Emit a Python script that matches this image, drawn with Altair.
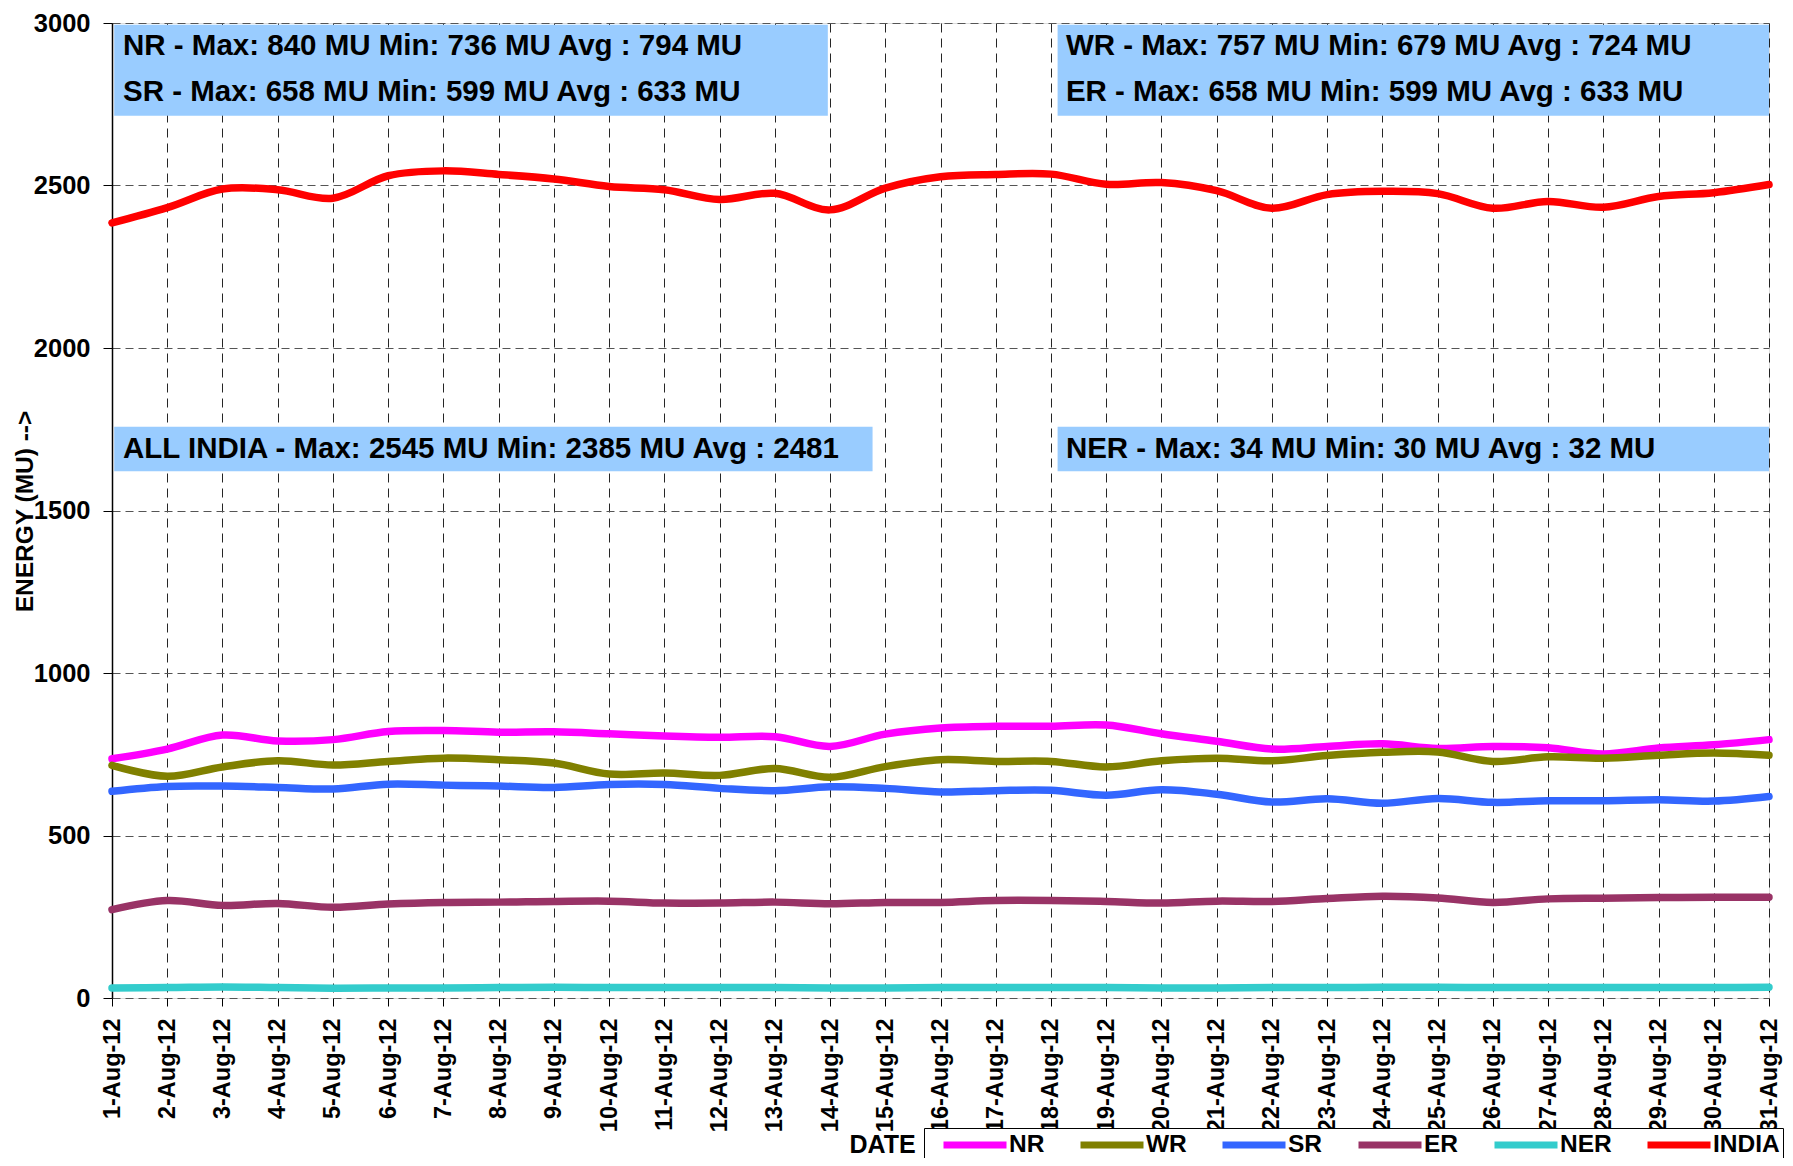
import altair as alt
import pandas as pd

# ---------------- data ----------------
days = list(range(1, 32))
series_names = ["NR", "WR", "SR", "ER", "NER", "INDIA"]
series_colors = ["#FF00FF", "#808000", "#3366FF", "#993366", "#33CCCC", "#FF0000"]

nr = [736, 766, 809, 791, 795, 820, 823, 818, 819, 813, 806, 802, 804, 774, 812,
      831, 836, 836, 840, 813, 790, 766, 774, 782, 768, 774, 770, 751, 769, 779, 795]
wr = [716, 682, 711, 730, 717, 728, 738, 733, 723, 689, 692, 685, 706, 679, 712,
      733, 728, 728, 711, 730, 738, 730, 746, 756, 757, 728, 742, 738, 747, 754, 747]
sr = [636, 651, 652, 648, 643, 658, 655, 652, 648, 657, 657, 645, 638, 650, 645,
      634, 638, 639, 624, 641, 627, 603, 613, 599, 614, 602, 607, 607, 610, 606, 620]
er = [272, 300, 285, 291, 279, 289, 294, 295, 297, 298, 292, 292, 295, 290, 294,
      294, 300, 300, 297, 292, 298, 297, 306, 313, 308, 294, 305, 307, 309, 310, 310]
ner = [31, 32, 34, 32, 30, 31, 31, 32, 33, 32, 32, 32, 32, 31, 31,
       32, 32, 32, 32, 31, 31, 32, 32, 33, 33, 32, 32, 32, 32, 32, 33]
india = [2385, 2432, 2489, 2487, 2461, 2530, 2545, 2534, 2520, 2497, 2487, 2457, 2476, 2425, 2492,
         2527, 2534, 2535, 2504, 2509, 2484, 2430, 2472, 2482, 2475, 2430, 2451, 2433, 2466, 2478, 2503]

box_texts = [
    ["NR - Max: 840 MU Min: 736 MU Avg : 794 MU", "SR - Max: 658 MU Min: 599 MU Avg : 633 MU"],
    ["WR - Max: 757 MU Min: 679 MU Avg : 724 MU", "ER - Max: 658 MU Min: 599 MU Avg : 633 MU"],
    ["ALL INDIA - Max: 2545 MU Min: 2385 MU Avg : 2481"],
    ["NER - Max: 34 MU Min: 30 MU Avg : 32 MU"],
]

# ---------------- tables ----------------
rows = []
for k, (name, vals) in enumerate(zip(series_names, [nr, wr, sr, er, ner, india])):
    for d, v in zip(days, vals):
        rows.append({"day": d, "series": name, "value": v, "k": k})
df = pd.DataFrame(rows)

# annotation boxes placed in data units (day, MU)
box_df = pd.DataFrame({
    "x1": [1.04, 18.12, 1.04, 18.12],
    "x2": [13.96, 31.0, 14.77, 31.0],
    "y1": [2995, 2995, 1758, 1758],
    "y2": [2715, 2715, 1621, 1621],
})
txt_rows = []
tx = [1.2, 18.27, 1.2, 18.27]
ty = [[2930, 2789], [2930, 2789], [1690], [1690]]
for i, lines_ in enumerate(box_texts):
    for j, t in enumerate(lines_):
        txt_rows.append({"x": tx[i], "y": ty[i][j], "t": t})
txt_df = pd.DataFrame(txt_rows)

FONT = "Liberation Sans, Arial"

x_scale = alt.Scale(domain=[1, 31], nice=False, zero=False)
y_scale = alt.Scale(domain=[0, 3000], nice=False)

x_axis = alt.Axis(
    values=days, labelExpr="datum.value + '-Aug-12'", labelAngle=270,
    labelFont=FONT, labelFontSize=23.5, labelFontWeight="bold", labelColor="black",
    labelPadding=12, tickSize=8, tickColor="black", domain=False,
    grid=True, gridColor="#000000", gridDash=[9, 6], gridWidth=1, gridOpacity=0.85,
    title="DATE", titleFont=FONT, titleFontSize=25, titleFontWeight="bold", titleColor="black",
    titleX=770, titleY=146, titleAlign="center", titleBaseline="middle",
    labelOverlap=False,
)
y_axis = alt.Axis(
    values=[0, 500, 1000, 1500, 2000, 2500, 3000], format="d",
    labelFont=FONT, labelFontSize=25.5, labelFontWeight="bold", labelColor="black",
    labelPadding=13, tickSize=9, tickColor="black",
    domain=True, domainColor="black", domainWidth=1.5,
    grid=True, gridColor="#555555", gridDash=[8, 5], gridWidth=1.2,
    title="ENERGY (MU) -->", titleFont=FONT, titleFontSize=24.5, titleFontWeight="bold", titleColor="black",
    titleAngle=270, titleX=-87, titleY=488, titleAlign="center", titleBaseline="middle",
)

boxes = alt.Chart(box_df).mark_rect(fill="#99CCFF").encode(
    x=alt.X("x1:Q", scale=x_scale, axis=x_axis),
    x2="x2:Q",
    y=alt.Y("y1:Q", scale=y_scale, axis=y_axis),
    y2="y2:Q",
)

texts = alt.Chart(txt_df).mark_text(
    align="left", baseline="middle", font=FONT, fontSize=29.5, fontWeight="bold", color="black"
).encode(
    x=alt.X("x:Q", scale=x_scale),
    y=alt.Y("y:Q", scale=y_scale),
    text="t:N",
)

lines = alt.Chart(df).mark_line(strokeWidth=7.5, interpolate="catmull-rom", strokeCap="round").encode(
    x=alt.X("day:Q", scale=x_scale),
    y=alt.Y("value:Q", scale=y_scale),
    color=alt.Color(
        "series:N",
        scale=alt.Scale(domain=series_names, range=series_colors),
        legend=alt.Legend(
            title=None, orient="none", legendX=812, legendY=1105, direction="horizontal",
            symbolType="M-3,0H3", symbolSize=441, symbolStrokeWidth=7, symbolOffset=34,
            labelFont=FONT, labelFontSize=24.5, labelFontWeight="bold", labelColor="black",
            labelOffset=20, columnPadding=19, padding=3, gridAlign="each",
            strokeColor="black", fillColor="white",
        ),
    ),
    order="k:Q",
)

chart = alt.layer(boxes, texts, lines).properties(
    width=1657, height=975,
    autosize=alt.AutoSizeParams(type="none"),
    padding={"left": 104, "top": 15, "right": 16, "bottom": 160},
).configure_view(stroke=None).configure(background="white")

chart.save("out.html", embed_options={"renderer": "svg", "actions": False})
